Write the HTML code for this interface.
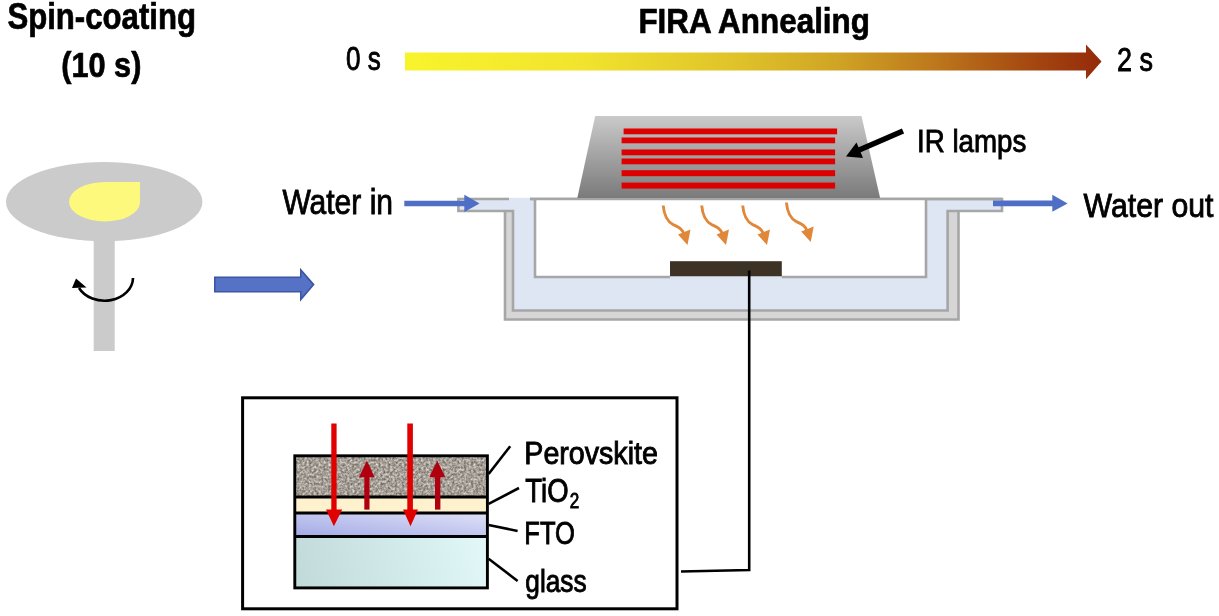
<!DOCTYPE html>
<html><head><meta charset="utf-8">
<style>
html,body{margin:0;padding:0;background:#fff;width:1219px;height:616px;overflow:hidden}
svg{display:block;will-change:transform}
text{font-family:"Liberation Sans",sans-serif;fill:#000;stroke:#000;stroke-width:0.9}
text[font-weight="bold"]{stroke-width:0.7}
</style></head>
<body>
<svg width="1219" height="616" viewBox="0 0 1219 616">
<defs>
  <linearGradient id="gbar" x1="405" y1="0" x2="1101" y2="0" gradientUnits="userSpaceOnUse">
    <stop offset="0" stop-color="#f8f42c"/>
    <stop offset="0.25" stop-color="#f1e42e"/>
    <stop offset="0.48" stop-color="#dfc22a"/>
    <stop offset="0.62" stop-color="#d0a424"/>
    <stop offset="0.76" stop-color="#bd781c"/>
    <stop offset="0.88" stop-color="#a84e12"/>
    <stop offset="1" stop-color="#952a0a"/>
  </linearGradient>
  <linearGradient id="glamp" x1="0" y1="116" x2="0" y2="198" gradientUnits="userSpaceOnUse">
    <stop offset="0" stop-color="#cacaca"/>
    <stop offset="1" stop-color="#7a7a7a"/>
  </linearGradient>
  <linearGradient id="gfto" x1="0" y1="1" x2="1" y2="0">
    <stop offset="0" stop-color="#a2aae6"/>
    <stop offset="1" stop-color="#e0e1f6"/>
  </linearGradient>
  <linearGradient id="gglass" x1="293" y1="588" x2="489" y2="536" gradientUnits="userSpaceOnUse">
    <stop offset="0" stop-color="#c0d9d9"/>
    <stop offset="1" stop-color="#e2f8f9"/>
  </linearGradient>
  <filter id="speck" x="0" y="0" width="100%" height="100%" color-interpolation-filters="sRGB">
    <feTurbulence type="fractalNoise" baseFrequency="0.42" numOctaves="2" seed="5" result="n"/>
    <feColorMatrix in="n" type="matrix" values="0.7 0 0 0 0.30  0.7 0 0 0 0.272  0.7 0 0 0 0.24  0 0 0 0 1" result="c0"/>
    <feGaussianBlur in="c0" stdDeviation="0.6" result="c"/>
    <feComposite in="c" in2="SourceGraphic" operator="in"/>
  </filter>
</defs>

<!-- ===== Titles ===== -->
<text id="t_spin" x="7.40" y="29" font-size="36" font-weight="bold" textLength="188.60" lengthAdjust="spacingAndGlyphs">Spin-coating</text>
<text id="t_10s" x="61.20" y="76.6" font-size="35.5" font-weight="bold" textLength="80.20" lengthAdjust="spacingAndGlyphs">(10 s)</text>
<text id="t_fira" x="638.40" y="33" font-size="35.6" font-weight="bold" textLength="231.60" lengthAdjust="spacingAndGlyphs">FIRA Annealing</text>
<text id="t_0s" x="346.00" y="70.4" font-size="34" textLength="34.80" lengthAdjust="spacingAndGlyphs">0 s</text>
<text id="t_2s" x="1117.00" y="71" font-size="34" textLength="36.00" lengthAdjust="spacingAndGlyphs">2 s</text>

<!-- gradient arrow -->
<polygon points="405,52.6 1086,52.6 1086,44.6 1101.5,61.5 1086,79.2 1086,70.4 405,70.4" fill="url(#gbar)"/>

<!-- ===== Spin coater ===== -->
<rect x="93.7" y="236" width="21" height="115" fill="#cbcbcb"/>
<ellipse cx="104.2" cy="201.7" rx="98.2" ry="39.6" fill="#cbcbcb"/>
<path d="M140,182 L140,203 A35,19.5 0 0 1 105,221.5 A36,19.8 0 0 1 69,202 A36,20 0 0 1 105,182 Z" fill="#fcf97c"/>
<path d="M133,278 A28.5,23 0 0 1 79,288" fill="none" stroke="#000" stroke-width="2.6"/>
<polygon points="76,278.5 72,288 86.5,287.5" fill="#000"/>

<!-- blue big arrow -->
<polygon points="214.8,277.3 300.8,277.3 300.8,270 313.6,284.6 300.8,299.6 300.8,291.8 214.8,291.8" fill="#5672c6" stroke="#3b56a2" stroke-width="1.6"/>

<!-- ===== Water bath ===== -->
<text id="t_win" x="282.40" y="213.8" font-size="35.7" textLength="110.60" lengthAdjust="spacingAndGlyphs">Water in</text>
<text id="t_wout" x="1083.60" y="216.7" font-size="34" textLength="129.80" lengthAdjust="spacingAndGlyphs">Water out</text>

<!-- outer shell (double line + light gray) -->
<path d="M505,211 L505,319.5 L958.5,319.5 L958.5,211" fill="#d6d6d6" stroke="#a6a6a6" stroke-width="2.6"/>
<!-- water fill -->
<path d="M458.4,197.8 L1002,197.8 L1002,211 L947.6,211 L947.6,310.5 L513,310.5 L513,211 L458.4,211 Z" fill="#dee6f4"/>
<path d="M509,199 L458.4,199 L458.4,211 L513,211 L513,310.5 L947.6,310.5 L947.6,211 L1002,211 L1002,199 L530,199" fill="none" stroke="#a6a6a6" stroke-width="2.6"/>
<!-- inner white box -->
<path d="M535,199 L535,277 L926,277 L926,199" fill="#fff" stroke="#a6a6a6" stroke-width="2.6"/>
<line x1="530" y1="199" x2="1002" y2="199" stroke="#a6a6a6" stroke-width="2.6"/>

<!-- lamp housing -->
<polygon points="595.2,116 861.5,116 880.1,198 577.3,198" fill="url(#glamp)"/>
<g fill="#dd0000">
  <rect x="623.6" y="128.5" width="213.5" height="5.8"/>
  <rect x="621.6" y="137.5" width="213.5" height="5.8"/>
  <rect x="621.6" y="149.5" width="213.5" height="5.8"/>
  <rect x="621.6" y="158.5" width="213.5" height="5.8"/>
  <rect x="621.6" y="170.2" width="213.5" height="6"/>
  <rect x="621.6" y="182.6" width="213.5" height="6"/>
</g>

<!-- IR lamps arrow -->
<line x1="903" y1="131" x2="858" y2="150.5" stroke="#000" stroke-width="5.5"/>
<polygon points="846,156.5 856.5,142.5 863,158" fill="#000"/>
<text id="t_ir" x="917.00" y="151.5" font-size="32" textLength="109.40" lengthAdjust="spacingAndGlyphs">IR lamps</text>

<!-- blue water arrows -->
<line x1="404.3" y1="203.6" x2="466" y2="203.6" stroke="#4f6fc6" stroke-width="5.5"/>
<polygon points="464.3,194.8 479.6,203.6 464.3,212" fill="#4f6fc6"/>
<line x1="993" y1="203.4" x2="1054" y2="203.4" stroke="#4f6fc6" stroke-width="5.6"/>
<polygon points="1052.3,194.8 1067.6,203.4 1052.3,211.8" fill="#4f6fc6"/>

<!-- orange wavy arrows -->
<g id="wave" fill="none" stroke="#e0873a" stroke-width="2.9">
  <path d="M663.2,205.5 C664,215 666.5,221 673,224.5 C678,227 681.5,228 684,234"/>
</g>
<g fill="#e0873a">
  <polygon points="678,234.5 690.5,229.5 687.5,245"/>
</g>
<g transform="translate(38.5,0)">
  <path d="M663.2,205.5 C664,215 666.5,221 673,224.5 C678,227 681.5,228 684,234" fill="none" stroke="#e0873a" stroke-width="2.9"/>
  <polygon points="678,234.5 690.5,229.5 687.5,245" fill="#e0873a"/>
</g>
<g transform="translate(79.5,0)">
  <path d="M663.2,205.5 C664,215 666.5,221 673,224.5 C678,227 681.5,228 684,234" fill="none" stroke="#e0873a" stroke-width="2.9"/>
  <polygon points="678,234.5 690.5,229.5 687.5,245" fill="#e0873a"/>
</g>
<g transform="translate(123.2,-3)">
  <path d="M663.2,205.5 C664,215 666.5,221 673,224.5 C678,227 681.5,228 684,234" fill="none" stroke="#e0873a" stroke-width="2.9"/>
  <polygon points="678,234.5 690.5,229.5 687.5,245" fill="#e0873a"/>
</g>

<!-- sample -->
<rect x="670" y="276.2" width="111.8" height="2.6" fill="#dee6f4"/>
<rect x="670" y="261.2" width="111.8" height="15" fill="#3d3226"/>

<!-- connector -->
<path d="M749.2,270.5 L749.2,570 L681,571.5" fill="none" stroke="#000" stroke-width="2.6"/>

<!-- ===== Inset ===== -->
<rect x="242.6" y="397.8" width="434.4" height="211" fill="none" stroke="#000" stroke-width="3"/>

<!-- layers -->
<rect x="294.8" y="455.8" width="192.6" height="41" fill="#9e968c"/>
<rect x="294.8" y="455.8" width="192.6" height="41" fill="#fff" filter="url(#speck)"/>
<rect x="294.8" y="497" width="192.6" height="16" fill="#fdf2cd"/>
<rect x="294.8" y="513" width="192.6" height="23.5" fill="url(#gfto)"/>
<rect x="294.8" y="536.5" width="192.6" height="51.4" fill="url(#gglass)"/>
<g stroke="#000" stroke-width="2.9" fill="none">
  <rect x="294.8" y="455.8" width="192.6" height="132.1"/>
  <line x1="294.8" y1="497" x2="487.4" y2="497"/>
  <line x1="294.8" y1="513" x2="487.4" y2="513"/>
  <line x1="294.8" y1="536.5" x2="487.4" y2="536.5"/>
</g>

<!-- red arrows -->
<g fill="#e00000">
  <rect x="331.3" y="423.5" width="5.3" height="88"/>
  <polygon points="326,509.6 342.2,509.6 333.9,526.3"/>
  <rect x="407.3" y="423.5" width="5.6" height="88"/>
  <polygon points="403,509.6 418,509.6 410.5,526.3"/>
</g>
<g fill="#b0000f">
  <rect x="364.3" y="475" width="5.2" height="34.6"/>
  <polygon points="359,477.2 374.7,477.2 366.9,460.8"/>
  <rect x="435" y="475" width="5.4" height="34.6"/>
  <polygon points="429.2,477.2 445.3,477.2 437.3,460.8"/>
</g>

<!-- leader lines -->
<g stroke="#000" stroke-width="2.6" fill="none">
  <line x1="488.6" y1="474" x2="510.2" y2="446.2"/>
  <line x1="488.6" y1="503.8" x2="519" y2="488"/>
  <line x1="488.6" y1="524.9" x2="517.6" y2="531"/>
  <line x1="488.6" y1="558.8" x2="517.6" y2="581"/>
</g>

<text id="t_per" x="524.30" y="463.8" font-size="31.4" textLength="133.60" lengthAdjust="spacingAndGlyphs">Perovskite</text>
<text id="t_tio" x="525.30" y="502.4" font-size="32.7" textLength="43.20" lengthAdjust="spacingAndGlyphs">TiO</text>
<text id="t_sub" x="569.70" y="508.4" font-size="22.5" textLength="9.50" lengthAdjust="spacingAndGlyphs">2</text>
<text id="t_fto" x="524.30" y="544.0" font-size="31.4" textLength="50.60" lengthAdjust="spacingAndGlyphs">FTO</text>
<text id="t_glass" x="525.30" y="591.8" font-size="31.4" textLength="61.30" lengthAdjust="spacingAndGlyphs">glass</text>
</svg>
</body></html>
